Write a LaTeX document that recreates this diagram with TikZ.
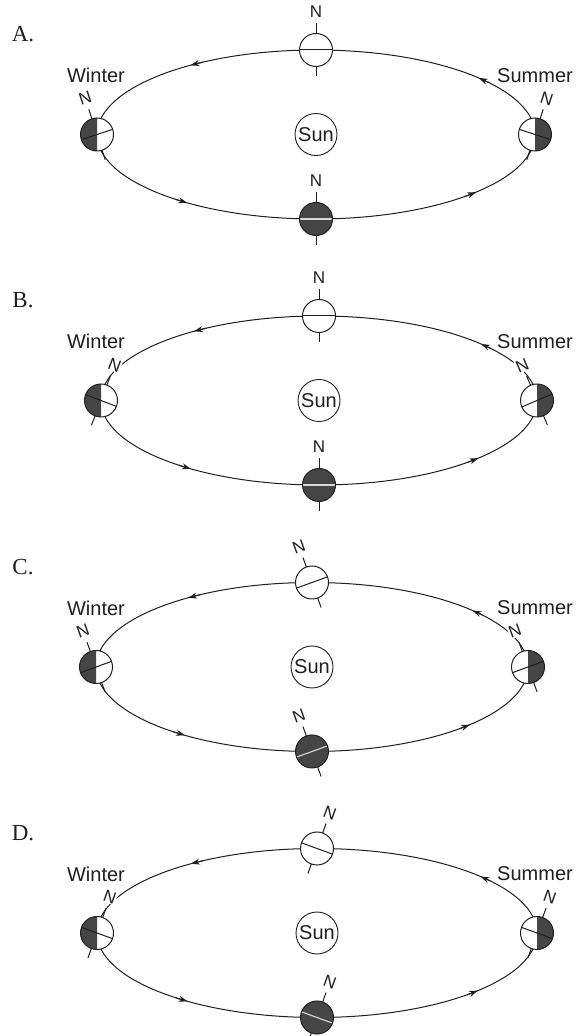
\documentclass[tikz,border=0pt]{standalone}
\usepackage{fontspec}
\setmainfont{Liberation Serif}
\setsansfont{Liberation Sans}
\usetikzlibrary{arrows.meta}

\definecolor{night}{gray}{0.27}
\definecolor{ink}{gray}{0.12}
\definecolor{glow}{gray}{0.85}

\tikzset{
  orbit/.style={draw=ink, line width=1pt},
  rim/.style={draw=ink, line width=1pt},
  flow/.style={-{Stealth[length=9pt,width=6pt]}, draw=ink, line width=1pt},
  nlabel/.style={font=\sffamily\fontsize{17}{17}\selectfont, text=ink, fill=white, inner sep=0.5pt},
  season/.style={font=\sffamily\fontsize{20}{20}\selectfont, text=ink},
  sunlabel/.style={circle, draw=ink, line width=0.9pt, fill=white, minimum size=42pt, inner sep=0pt,
    font=\sffamily\fontsize{20}{20}\selectfont, text=ink},
  letter/.style={font=\fontsize{23}{23}\selectfont, text=ink},
}

% Earth with its axis: #1 name, #2/#3 position, #4 axis tilt (deg, + leans left),
% #5 shading: 0 lit, 1 dark, 2 left half dark, 3 right half dark
\newcommand\earthat[5]{%
  \begin{scope}[shift={(#2,#3)}]
    \fill[white] (0,0) circle (16.5);
    \ifcase#5\relax
    \or \fill[night] (0,0) circle (16.5);
    \or \fill[night] (0,16.5) arc (90:270:16.5) -- cycle;
    \or \fill[night] (0,16.5) arc (90:-90:16.5) -- cycle;
    \fi
    \ifnum#5=1
      \draw[glow, line width=1.1pt] (180+#4:16) -- (#4:16);
    \else
      \draw[ink, line width=1pt] (180+#4:16.5) -- (#4:16.5);
    \fi
    \draw[rim] (0,0) circle (16.5);
    \draw[rim] (90+#4:16.5) -- (90+#4:26.5);
    \draw[rim] (270+#4:16.5) -- (270+#4:26.5);
    \node[nlabel, rotate=#4] (#1) at (90+#4:38) {N};
  \end{scope}}

% arrowhead on the orbit: #1 semi-major axis, #2 parameter angle
\newcommand\orbitarrow[2]{%
  \draw[flow] ({#1*cos(#2-4)},{84.5*sin(#2-4)}) -- ({#1*cos(#2)},{84.5*sin(#2)});}

% one orbit diagram: #1 id, #2 letter, #3 centre x, #4 centre y (from top), #5 semi-major axis,
% #6 winter tilt, #7 top tilt, #8 summer tilt, #9 bottom tilt
\newcommand\panel[9]{%
  \begin{scope}[shift={(#3,1036-#4)}]
    \node[letter] (#1-tag) at (23-#3,100) {#2.};
    \draw[orbit] (0,0) ellipse ({#5} and 84.5);
    \orbitarrow{#5}{125}
    \orbitarrow{#5}{42}
    \orbitarrow{#5}{234}
    \orbitarrow{#5}{317}
    \node[sunlabel] (#1-sun) at (0,0) {Sun};
    \node[season] (#1-winter) at (96-#3,59) {Winter};
    \node[season] (#1-summer) at (535-#3,59) {Summer};
    \earthat{#1-w}{-#5}{0}{#6}{2}
    \earthat{#1-t}{0}{84.5}{#7}{0}
    \earthat{#1-s}{#5}{0}{#8}{3}
    \earthat{#1-b}{0}{-84.5}{#9}{1}
  \end{scope}}

\begin{document}
\begin{tikzpicture}[x=1pt,y=1pt]
  \useasboundingbox (0,0) rectangle (586,1036);
  \panel{a}{A}{316}{134.5}{219}{18}{0}{-18}{0}
  \panel{b}{B}{319}{400.5}{218}{-21}{0}{23}{0}
  \panel{c}{C}{312}{667}{216}{20}{20}{20}{20}
  \panel{d}{D}{317}{933}{220}{-20}{-20}{-20}{-20}
\end{tikzpicture}
\end{document}
